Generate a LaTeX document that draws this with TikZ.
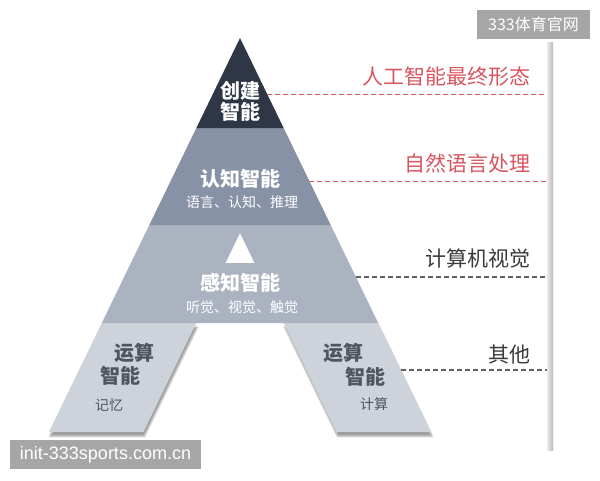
\documentclass[tikz,border=0pt]{standalone}
\usepackage{fontspec}
\newfontfamily\cjk{Noto Sans CJK SC}
\newfontfamily\latinmark{Liberation Sans}
\usetikzlibrary{calc, shadows.blur}

\begin{document}
\begin{tikzpicture}[x=1pt, y=-1pt,
    bandTitle/.style={font=\cjk\bfseries\fontsize{20}{24}\selectfont, text=white},
    bandSub/.style={font=\cjk\fontsize{14}{16}\selectfont, text=white},
    legTitle/.style={font=\cjk\bfseries\fontsize{20}{24}\selectfont, text=legText},
    legSub/.style={font=\cjk\fontsize{14}{16}\selectfont, text=legText},
    sideLabel/.style={font=\cjk\fontsize{21}{24}\selectfont, anchor=east},
    redDash/.style={draw=redColour, line width=0.8pt, dash pattern=on 5pt off 3pt},
    greyDash/.style={draw=greyColour!80, line width=1.1pt, dash pattern=on 5pt off 3pt},
    legShadow/.style={blur shadow={shadow xshift=1pt, shadow yshift=-4pt, shadow blur steps=6, shadow opacity=40}},
    markBox/.style={fill=markColour, text=white, inner sep=0pt}]

    \definecolor{topColour}{HTML}{2F3747}
    \definecolor{cogColour}{HTML}{8892A6}
    \definecolor{perColour}{HTML}{ABB3C1}
    \definecolor{legColour}{HTML}{CDD2DB}
    \definecolor{legText}{HTML}{50555E}
    \definecolor{redColour}{HTML}{D9545E}
    \definecolor{greyColour}{HTML}{3A3A3A}
    \definecolor{markColour}{HTML}{A6A6A6}

    \useasboundingbox (0,0) rectangle (600,480);

    % Define outer corners of the A
    \coordinate (apex) at (240,38);
    \coordinate (L1) at (196.35,128);  \coordinate (R1) at (283.65,128);
    \coordinate (L2) at (149.3,225);   \coordinate (R2) at (330.7,225);
    \coordinate (L3) at (101.8,323);   \coordinate (R3) at (378.2,323);
    \coordinate (L4) at (48.9,432);    \coordinate (R4) at (431.1,432);

    % Define inner corners of the A
    \coordinate (inApex) at (240,233);
    \coordinate (iL1) at (225.45,263); \coordinate (iR1) at (254.55,263);
    \coordinate (iL2) at (196.35,323); \coordinate (iR2) at (283.65,323);
    \coordinate (iL3) at (143.5,432);  \coordinate (iR3) at (336.5,432);

    % Draw the bottom legs
    \fill[legColour, legShadow] (L3) -- (iL2) -- (iL3) -- (L4) -- cycle;
    \fill[legColour, legShadow] (iR2) -- (R3) -- (R4) -- (iR3) -- cycle;

    % Draw the bands
    \fill[perColour, even odd rule] (L2) -- (R2) -- (R3) -- (L3) -- cycle
        (inApex) -- (iR1) -- (iL1) -- cycle;
    \fill[cogColour] (L1) -- (R1) -- (R2) -- (L2) -- cycle;
    \fill[topColour] (apex) -- (R1) -- (L1) -- cycle;

    % Label the bands
    \node[bandTitle, align=center] (create) at (240,101) {创建\\[-3pt]智能};
    \node[bandTitle] (cognition) at (240,179) {认知智能};
    \node[bandSub] (cognitionSub) at (242,202) {语言、认知、推理};
    \node[bandTitle] (perception) at (240,283) {感知智能};
    \node[bandSub] (perceptionSub) at (242,307) {听觉、视觉、触觉};

    % Label the legs
    \node[legTitle] (leftOp) at (134,353) {运算};
    \node[legTitle] (leftIntel) at (120,376) {智能};
    \node[legSub] (memory) at (109,405) {记忆};
    \node[legTitle] (rightOp) at (343,353) {运算};
    \node[legTitle] (rightIntel) at (365,377) {智能};
    \node[legSub] (compute) at (374,404) {计算};

    % Draw the side bar
    \shade[left color=gray!15, right color=gray!55] (547,42) rectangle (553,450);

    % Draw the side labels and their dashed guides
    \coordinate (e1) at (267.2,94);  \coordinate (b1) at (547,94);
    \coordinate (e2) at (309.4,181); \coordinate (b2) at (547,181);
    \coordinate (e3) at (355.9,277); \coordinate (b3) at (547,277);
    \coordinate (e4) at (401.0,370); \coordinate (b4) at (547,370);

    \draw[redDash] (e1) -- (b1);
    \draw[redDash] (e2) -- (b2);
    \draw[greyDash] (e3) -- (b3);
    \draw[greyDash] (e4) -- (b4);

    \node[sideLabel, text=redColour] (finalForm) at (534,77) {人工智能最终形态};
    \node[sideLabel, text=redColour] (nlp) at (534,163) {自然语言处理};
    \node[sideLabel, text=greyColour] (vision) at (534,259) {计算机视觉};
    \node[sideLabel, text=greyColour] (others) at (534,355) {其他};

    % Draw the watermarks
    \node[markBox, minimum width=113pt, minimum height=29pt,
        font=\cjk\fontsize{16}{18}\selectfont] (markTop) at (533.5,24.5) {333体育官网};
    \node[markBox, minimum width=191pt, minimum height=29pt,
        font=\latinmark\fontsize{18}{20}\selectfont] (markBottom) at (105.5,454.5) {init-333sports.com.cn};

\end{tikzpicture}
\end{document}
